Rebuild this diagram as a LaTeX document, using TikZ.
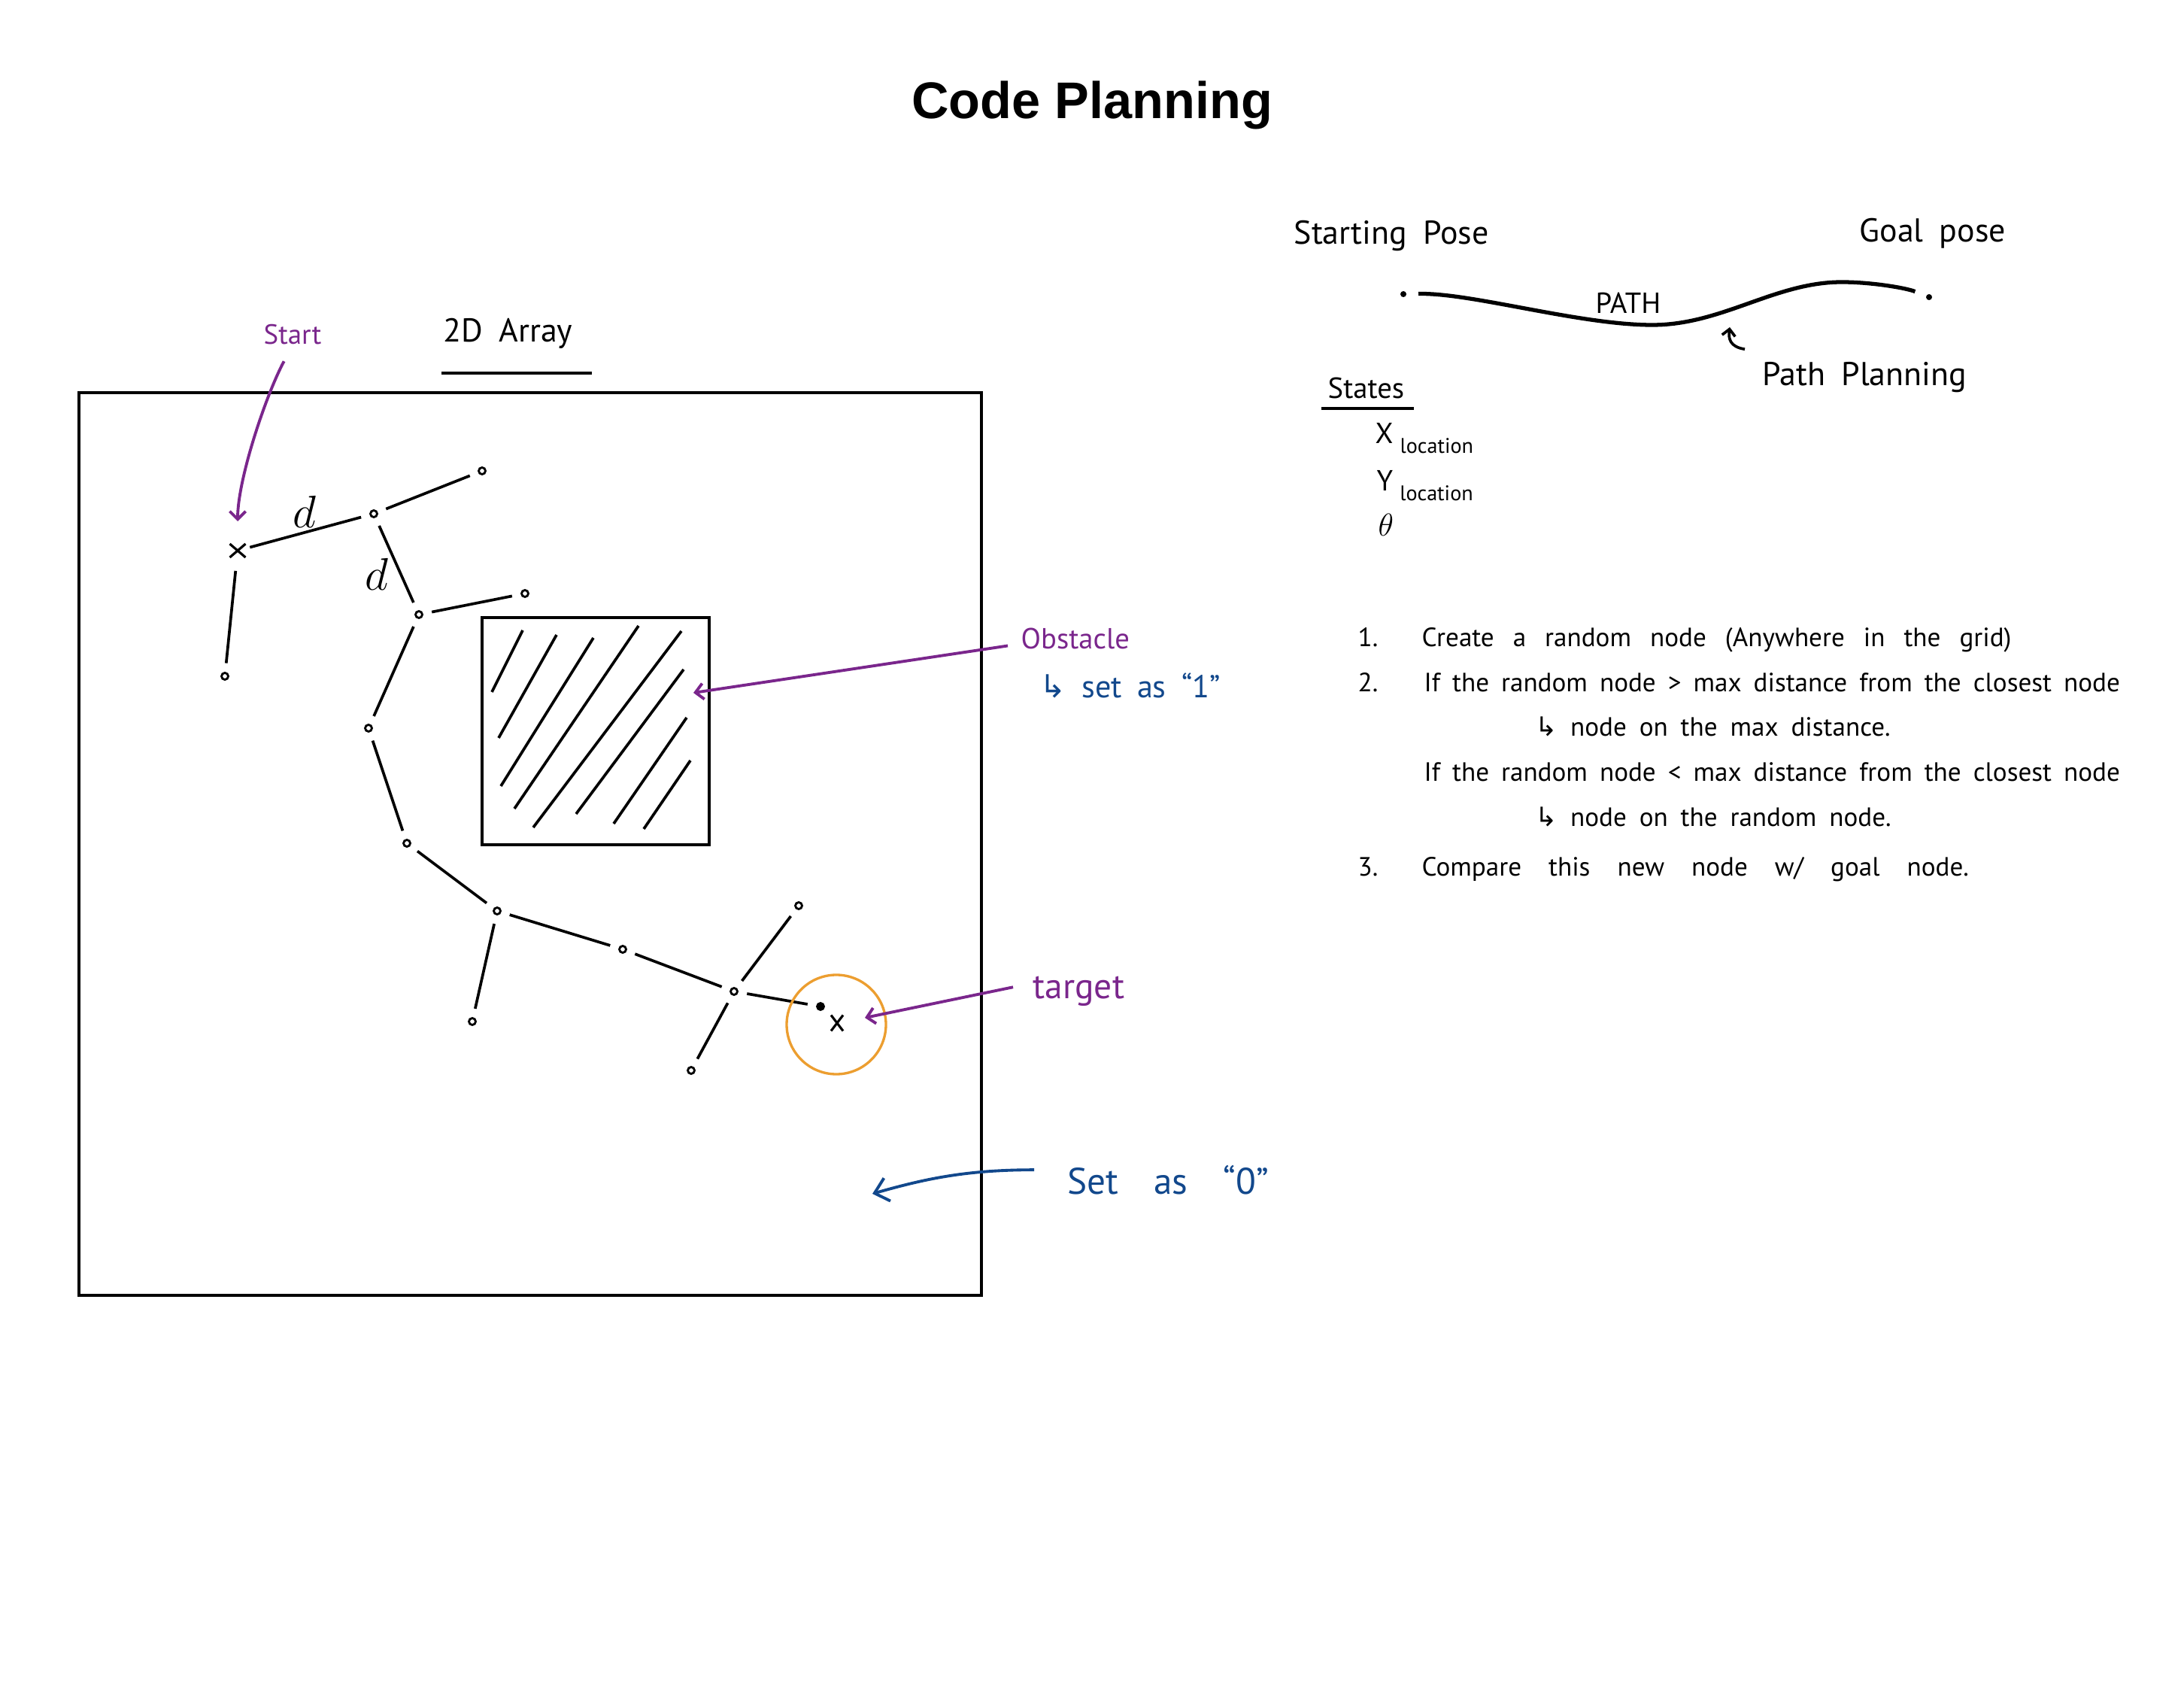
\documentclass[tikz,border=0pt]{standalone}
\usepackage{fontspec}
\setmainfont{PT Sans}
\newfontfamily\handfont[WordSpace=1.8]{PT Sans}
\newfontfamily\titlefont{Liberation Sans}
\newfontfamily\arrowfont{DejaVu Sans}
\usetikzlibrary{arrows.meta,shapes.misc}
\definecolor{penpurple}{RGB}{122,38,140}
\definecolor{penblue}{RGB}{18,72,140}
\definecolor{penorange}{RGB}{236,158,48}

\begin{document}
\begin{tikzpicture}[
  ink/.style={line width=1.05pt},
  vtx/.style={circle,draw,line width=0.8pt,inner sep=0pt,minimum size=0.9mm,outer sep=1.3mm},
  cross/.style={cross out,draw,line width=0.9pt,inner sep=0pt,minimum width=2.1mm,minimum height=1.8mm,outer sep=0pt},
  dot/.style={circle,fill,inner sep=0pt,minimum size=0.8mm,outer sep=1.6mm},
  hand/.style={font=\handfont\fontsize{12.5}{14}\selectfont,inner sep=0pt,anchor=base west},
  steptext/.style={font=\handfont\fontsize{10}{12}\selectfont,inner sep=0pt,anchor=base west},
  purparrow/.style={draw=penpurple,line width=1.1pt,-{Straight Barb[length=3pt,width=6pt]}},
  bluearrow/.style={draw=penblue,line width=1.1pt,-{Straight Barb[length=5pt,width=9pt]}},
]
\useasboundingbox (0,0) rectangle (29.04,-22.44);

\node[font=\titlefont\bfseries\fontsize{19.5}{22}\selectfont,anchor=base] (title) at (14.52,-1.58) {Code Planning};

\node[draw,ink,minimum size=12cm,inner sep=0pt] (grid) at (7.05,-11.22) {};
\node[draw,ink,minimum width=3.02cm,minimum height=3.02cm,inner sep=0pt] (obst) at (7.92,-9.72) {};
\draw[ink] (6.95,-8.38) -- (6.54,-9.20);
\draw[ink] (7.40,-8.44) -- (6.63,-9.81);
\draw[ink] (7.89,-8.48) -- (6.66,-10.45);
\draw[ink] (8.49,-8.32) -- (6.84,-10.75);
\draw[ink] (9.06,-8.39) -- (7.09,-11.00);
\draw[ink] (9.09,-8.90) -- (7.66,-10.82);
\draw[ink] (9.13,-9.54) -- (8.16,-10.95);
\draw[ink] (9.18,-10.11) -- (8.56,-11.02);

\node[hand,font=\handfont\fontsize{10.5}{12}\selectfont,text=penpurple] (slabel) at (3.50,-4.58) {Start};
\node[hand] (arr) at (5.89,-4.55) {2D Array};
\draw[ink] (5.87,-4.96) -- (7.87,-4.96);

\node[cross] (sx) at (3.16,-7.32) {};
\node[vtx] (na) at (4.97,-6.83) {};
\node[vtx] (na1) at (6.41,-6.26) {};
\node[vtx] (nl) at (2.99,-8.99) {};
\node[vtx] (nb) at (5.57,-8.17) {};
\node[vtx] (nb1) at (6.98,-7.89) {};
\node[vtx] (nc) at (4.90,-9.68) {};
\node[vtx] (nd) at (5.41,-11.21) {};
\node[vtx] (ne) at (6.61,-12.11) {};
\node[vtx] (ne1) at (6.28,-13.58) {};
\node[vtx] (nf) at (8.28,-12.62) {};
\node[vtx] (ng) at (9.76,-13.18) {};
\node[vtx] (ng1) at (10.62,-12.04) {};
\node[vtx] (ng2) at (9.19,-14.23) {};
\node[vtx,fill] (nh) at (10.91,-13.38) {};
\draw[ink,shorten <=0.6mm] (sx) -- (na);
\draw[ink,shorten <=1.8mm] (sx) -- (nl);
\draw[ink] (na) -- (na1) (na) -- (nb) (nb) -- (nb1)
  (nb) -- (nc) (nc) -- (nd) (nd) -- (ne) (ne) -- (ne1) (ne) -- (nf)
  (nf) -- (ng) (ng) -- (ng1) (ng) -- (ng2) (ng) -- (nh);
\node[font=\fontsize{17}{17}\selectfont] (d1) at (4.05,-6.80) {$d$};
\node[font=\fontsize{17}{17}\selectfont] (d2) at (5.01,-7.63) {$d$};

\node[cross,minimum width=1.6mm,minimum height=2.1mm] (tx) at (11.13,-13.60) {};
\node[circle,draw=penorange,line width=0.95pt,minimum size=1.32cm,inner sep=0pt] (ring) at (11.12,-13.62) {};

\draw[purparrow,shorten <=2.4mm,shorten >=3mm] (slabel.south) .. controls +(-0.35,-0.65) and +(0,0.95) .. (sx);

\node[hand,font=\handfont\fontsize{11}{13}\selectfont,text=penpurple] (olabel) at (13.57,-8.63) {Obstacle};
\node[hand,font=\handfont\fontsize{12}{14}\selectfont,text=penblue] (one) at (13.82,-9.28) {{\arrowfont ↳}\ set as “1”};
\coordinate (otip) at (9.22,-9.21);
\draw[purparrow] ([xshift=-1.7mm,yshift=-0.9mm]olabel.west) -- (otip);

\node[hand,font=\handfont\fontsize{13.5}{15}\selectfont,text=penpurple] (tlabel) at (13.73,-13.27) {target};
\coordinate (ttip) at (11.50,-13.53);
\draw[purparrow] ([xshift=-2.6mm,yshift=0.5mm]tlabel.west) -- (ttip);

\node[hand,font={\handfont\fontsize{14}{16}\selectfont\spaceskip=4.7mm\relax},text=penblue] (zlabel) at (14.19,-15.87) {Set as “0”};
\coordinate (ztip) at (11.60,-15.87);
\draw[bluearrow] ([xshift=-4.4mm,yshift=1.3mm]zlabel.west) .. controls +(-0.9,0) and +(0.7,0.2) .. (ztip);

\node[hand] (spose) at (17.20,-3.25) {Starting Pose};
\node[hand] (gpose) at (24.72,-3.22) {Goal pose};
\node[dot] (sdot) at (18.66,-3.91) {};
\node[dot] (gdot) at (25.65,-3.95) {};
\coordinate (pmin) at (21.97,-4.32);
\coordinate (pmax) at (24.49,-3.75);
\draw[line width=1.5pt] (sdot) .. controls +(0.9,0.02) and +(-0.97,0) .. (pmin)
  .. controls +(0.93,0) and +(-0.89,0) .. (pmax) .. controls +(0.4,0) and +(-0.3,0.12) .. (gdot);
\node[hand,font=\handfont\fontsize{11}{13}\selectfont] (ptext) at (21.21,-4.17) {PATH};
\node[hand] (plan) at (23.43,-5.13) {Path Planning};
\coordinate (ptip) at (23.00,-4.35);
\draw[ink,-{Straight Barb[length=2.5pt,width=5pt]}] ([shift={(-0.23,0.17)}]plan.north west) .. controls +(-0.2,0.03) and +(-0.02,-0.15) .. (ptip);

\node[hand,font=\handfont\fontsize{11}{13}\selectfont] (states) at (17.65,-5.30) {States};
\draw[ink] (17.57,-5.43) -- (18.80,-5.43);
\node[hand,font=\handfont\fontsize{11}{13}\selectfont] (xl) at (18.28,-5.90) {X\hspace{0.9mm}\raisebox{-3.7pt}{\fontsize{8}{9}\selectfont location}};
\node[hand,font=\handfont\fontsize{11}{13}\selectfont] (yl) at (18.30,-6.53) {Y\hspace{0.9mm}\raisebox{-3.7pt}{\fontsize{8}{9}\selectfont location}};
\node[font=\fontsize{12}{12}\selectfont,inner sep=0pt,anchor=base west] (th) at (18.32,-7.13) {$\theta$};

\node[steptext] (n1) at (18.05,-8.60) {1.};
\node[steptext,font={\handfont\fontsize{10}{12}\selectfont\spaceskip=2.5mm\relax}] (s1) at (18.90,-8.60) {Create a random node (Anywhere in the grid)};
\node[steptext] (n2) at (18.05,-9.20) {2.};
\node[steptext,font={\handfont\fontsize{10}{12}\selectfont\spaceskip=1.6mm\relax}] (s2) at (18.93,-9.20) {If the random node > max distance from the closest node};
\node[steptext] (s2a) at (20.41,-9.78) {{\arrowfont ↳}\ node on the max distance.};
\node[steptext,font={\handfont\fontsize{10}{12}\selectfont\spaceskip=1.6mm\relax}] (s2b) at (18.93,-10.38) {If the random node < max distance from the closest node};
\node[steptext] (s2c) at (20.41,-10.98) {{\arrowfont ↳}\ node on the random node.};
\node[steptext] (n3) at (18.05,-11.64) {3.};
\node[steptext,font={\handfont\fontsize{10}{12}\selectfont\spaceskip=3.6mm\relax}] (s3) at (18.90,-11.64) {Compare this new node w/ goal node.};
\end{tikzpicture}
\end{document}
